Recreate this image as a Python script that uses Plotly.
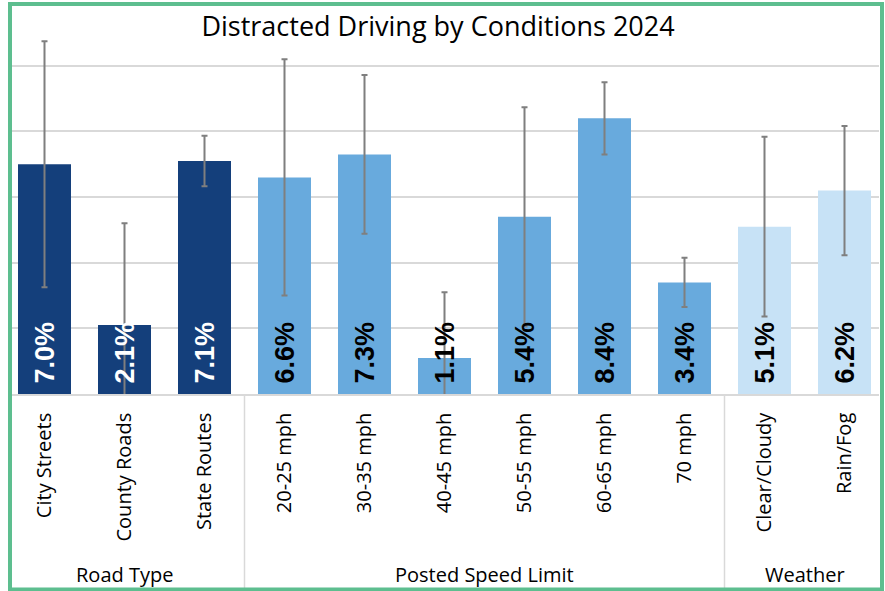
import plotly.graph_objects as go

# ---- data ----
title = "Distracted Driving by Conditions 2024"
categories = ["City Streets", "County Roads", "State Routes",
              "20-25 mph", "30-35 mph", "40-45 mph", "50-55 mph", "60-65 mph", "70 mph",
              "Clear/Cloudy", "Rain/Fog"]
groups = ["Road Type", "Road Type", "Road Type",
          "Posted Speed Limit", "Posted Speed Limit", "Posted Speed Limit",
          "Posted Speed Limit", "Posted Speed Limit", "Posted Speed Limit",
          "Weather", "Weather"]
values = [7.0, 2.1, 7.1, 6.6, 7.3, 1.1, 5.4, 8.4, 3.4, 5.1, 6.2]
errors = [3.75, 3.1, 0.77, 3.6, 2.42, 2.0, 3.34, 1.1, 0.75, 2.74, 1.97]
group_names = ["Road Type", "Posted Speed Limit", "Weather"]

# ---- style ----
group_colors = {"Road Type": "#143F7B", "Posted Speed Limit": "#68AADD", "Weather": "#C7E2F6"}
label_colors = {"Road Type": "white", "Posted Speed Limit": "black", "Weather": "black"}
GRID = "#D9D9D9"
GREEN = "#5DBE8F"
W, H = 885, 591
ML, MR, MT, MB = 12, 6, 33, 197
PW, PH = W - ML - MR, H - MT - MB
PITCH, FIRST = 80.0, 44.5
x_lo = (ML - FIRST) / PITCH
x_hi = x_lo + PW / PITCH


def px_to_paper_x(px):
    return (px - ML) / PW


def px_to_paper_y(py):
    return (H - MB - py) / PH


fig = go.Figure()
fig.add_trace(go.Bar(
    x=categories,
    y=values,
    marker=dict(color=[group_colors[g] for g in groups], line=dict(width=0)),
    error_y=dict(type="data", array=errors, symmetric=True,
                 color="#7F7F7F", thickness=2, width=3),
    hoverinfo="x+y",
))

annotations = []
for c, v, g in zip(categories, values, groups):
    annotations.append(dict(
        x=c, y=0, xref="x", yref="y", text=f"<b>{v:.1f}%</b>", showarrow=False,
        textangle=-90, xanchor="center", yanchor="bottom", yshift=8,
        font=dict(family="Liberation Sans", size=27, color=label_colors[g]),
    ))

shapes = []
for gi, gname in enumerate(group_names):
    idx = [i for i, g in enumerate(groups) if g == gname]
    annotations.append(dict(
        x=sum(idx) / len(idx), y=px_to_paper_y(574), xref="x", yref="paper",
        text=gname, showarrow=False, xanchor="center", yanchor="middle",
        font=dict(family="Open Sans", size=20, color="black"),
    ))
    if gi > 0:
        shapes.append(dict(
            type="line", xref="x", yref="paper",
            x0=idx[0] - 0.5, x1=idx[0] - 0.5, y0=0, y1=px_to_paper_y(588),
            line=dict(color=GRID, width=1.5),
        ))

shapes.append(dict(
    type="rect", xref="paper", yref="paper",
    x0=px_to_paper_x(10), x1=px_to_paper_x(882),
    y0=px_to_paper_y(589.5), y1=px_to_paper_y(4),
    line=dict(color=GREEN, width=4), fillcolor="rgba(0,0,0,0)", layer="above",
))

fig.update_layout(
    width=W, height=H,
    margin=dict(l=ML, r=MR, t=MT, b=MB, pad=0),
    paper_bgcolor="white", plot_bgcolor="white",
    title=dict(text=title, x=0.495, xanchor="center", y=1 - 27 / H, yanchor="middle",
               yref="container", font=dict(family="Open Sans", size=27, color="black")),
    bargap=1 - 53 / PITCH,
    showlegend=False,
    annotations=annotations,
    shapes=shapes,
    xaxis=dict(
        type="category", range=[x_lo, x_hi], tickangle=-90,
        tickfont=dict(family="Open Sans", size=20, color="black"),
        ticklabelstandoff=9,
        showline=True, linecolor=GRID, linewidth=1.5, ticks="", showgrid=False,
    ),
    yaxis=dict(
        range=[0, 11], dtick=2, showgrid=True, gridcolor=GRID, gridwidth=1.5,
        showticklabels=False, zeroline=False, showline=False, ticks="",
    ),
)

fig.write_html("out.html", config={"displayModeBar": False},
               post_script="document.body.style.margin='0';")
